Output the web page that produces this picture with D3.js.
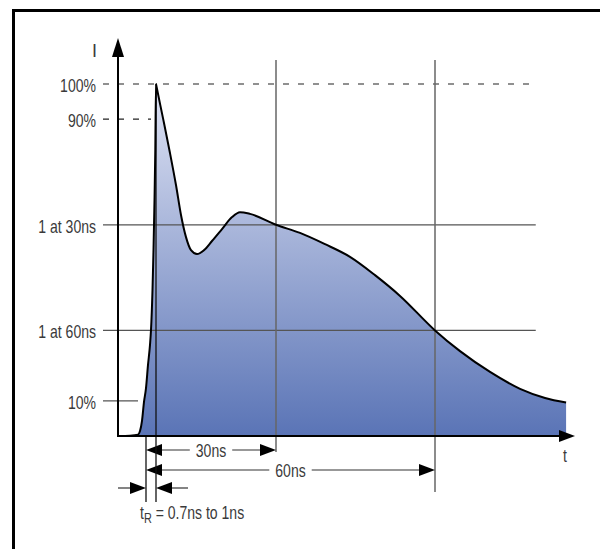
<!DOCTYPE html>
<html>
<head>
<meta charset="UTF-8">
<title>Pulse current waveform</title>
<style>
  body{margin:0;background:#fff}
  svg{display:block}
  text{font-family:"Liberation Sans",Arial,sans-serif;font-size:18px;fill:#3a3a3a}
</style>
</head>
<body>
<div id="chart"></div>
<script src="https://d3js.org/d3.v7.min.js"></script>
<script>
/* pulse: time in ns (schematic, not to scale), current in % of peak */
const pulseT = [-7,-4,-2,-1.5,-1,-0.5,0,0.2,0.4,0.5,0.65,0.75,0.85,0.93,1,1.05,
                2.69,4.38,5.83,7.04,8.25,9.46,10.91,12.6,14.53,16.95,19.37,21.3,23.72,30,
                34.53,39.25,43.96,48.68,53.4,60,64.72,70.38,76.04,80.75,84.72];
const pulseI = [0,0.1,0.4,1.4,4.3,9.7,13.6,20.2,25.9,30.1,41.5,52.8,67,81.3,100,99.7,
                90.3,80.4,71.3,62.8,56.5,52.8,51.7,52.8,55.4,58.8,62.2,63.6,63.1,60,
                57.7,54.5,50.9,45.7,39.8,30,24.1,18.2,13.4,10.8,9.5];

/* reference levels on the current axis */
const levelLabels = ["100%","90%","1 at 30ns","1 at 60ns","10%"];
const levelValues = [100,90,60,30,10];
const levelEnds   = [79,0.5,79,79,-2];      // ns where each guide stops

/* time markers */
const markerT      = [30,60];
const markerLabels = ["30ns","60ns"];
const riseT        = [0,1];
const riseLabel    = ["t","R"," = 0.7ns to 1ns"];

const W=600,H=549,NARROW=0.78;
const svg=d3.select("#chart").append("svg").attr("width",W).attr("height",H);

/* condensed text: regular font squeezed horizontally */
function label(px,py,anchor,str,sx=NARROW){
  const t=svg.append("text")
     .attr("transform",`translate(${px},${py}) scale(${sx},1)`)
     .attr("text-anchor",anchor);
  if(str!=null) t.text(str);
  return t;
}

/* frame (runs off the right/bottom of the picture) */
svg.append("rect").attr("x",13.5).attr("y",10.5).attr("width",700).attr("height",700)
   .attr("fill","none").attr("stroke","#000").attr("stroke-width",3);

/* scales: time axis is a schematic, piecewise */
const x=d3.scaleLinear().domain([-7,0,1,30,60,86.4]).range([118,146,156,276,435,575]);
const y=d3.scaleLinear().domain([0,100]).range([436,84]);

const pts=pulseT.map((t,i)=>({t,v:pulseI[i]}));

const defs=svg.append("defs");
const grad=defs.append("linearGradient").attr("id","fillGrad")
   .attr("gradientUnits","userSpaceOnUse")
   .attr("x1",0).attr("x2",0).attr("y1",y(100)).attr("y2",y(0));
grad.append("stop").attr("offset","0%").attr("stop-color","#e0e4f4");
grad.append("stop").attr("offset","100%").attr("stop-color","#5a74b6");

/* area under pulse */
svg.append("path").datum(pts)
   .attr("fill","url(#fillGrad)")
   .attr("d",d3.area().x(d=>x(d.t)).y0(y(0)).y1(d=>y(d.v)).curve(d3.curveMonotoneX));

const x0=x.range()[0], xEnd=x.range()[5], tick=15;

/* level guides */
levelValues.forEach((v,i)=>{
  svg.append("line")
     .attr("x1",x0-tick).attr("x2",x(levelEnds[i]))
     .attr("y1",y(v)).attr("y2",y(v))
     .attr("stroke",v>=90?"#222":"#555").attr("stroke-width",v>=90?1.2:1.3)
     .attr("stroke-dasharray",v>=90?"6,9":null);
  label(x0-22,y(v)+8,"end",levelLabels[i]);
});

/* arrow heads */
function head(tx,ty,dir){
  const L=16,h=6;
  let p;
  if(dir==="right") p=[[tx,ty],[tx-L,ty-h],[tx-L,ty+h]];
  else if(dir==="left") p=[[tx,ty],[tx+L,ty-h],[tx+L,ty+h]];
  else p=[[tx,ty],[tx-h,ty+L+3],[tx+h,ty+L+3]];
  svg.append("path").attr("d","M"+p.join("L")+"Z").attr("fill","#000");
}

/* rows below the time axis */
const rowY=[y(0)+14,y(0)+34], trY=y(0)+52;

/* vertical markers + dimension arrows */
markerT.forEach((t,i)=>{
  svg.append("line").attr("x1",x(t)).attr("x2",x(t))
     .attr("y1",y(100)-24).attr("y2",rowY[i]+(i?22:2))
     .attr("stroke","#666").attr("stroke-width",1.5);
  svg.append("line").attr("x1",x(0)+4).attr("x2",x(t)-4)
     .attr("y1",rowY[i]).attr("y2",rowY[i]).attr("stroke","#333").attr("stroke-width",1.2);
  const cx=(x(0)+x(t))/2;
  const lbl=label(cx,rowY[i]+6.5,"middle",markerLabels[i]);
  const w=lbl.node().getBBox().width*NARROW;
  svg.append("rect")
     .attr("x",cx-w/2-6).attr("y",rowY[i]-3).attr("width",w+12).attr("height",6)
     .attr("fill","#fff");
  lbl.raise();
  head(x(0),rowY[i],"left");
  head(x(t),rowY[i],"right");
});

/* rise time lines */
riseT.forEach((t,i)=>{
  svg.append("line").attr("x1",x(t)).attr("x2",x(t))
     .attr("y1",i?y(100):y(0)).attr("y2",trY+14)
     .attr("stroke","#111").attr("stroke-width",1.3);
});
svg.append("line").attr("x1",x(riseT[0])-28).attr("x2",x(riseT[0])-4)
   .attr("y1",trY).attr("y2",trY).attr("stroke","#333").attr("stroke-width",1.2);
svg.append("line").attr("x1",x(riseT[1])+4).attr("x2",x(riseT[1])+32)
   .attr("y1",trY).attr("y2",trY).attr("stroke","#333").attr("stroke-width",1.2);
head(x(riseT[0]),trY,"right");
head(x(riseT[1]),trY,"left");
const tr=label(x(riseT[0])-6,trY+31,"start");
tr.append("tspan").text(riseLabel[0]);
tr.append("tspan").attr("dy",4).style("font-size","14px").text(riseLabel[1]);
tr.append("tspan").attr("dy",-4).text(riseLabel[2]);

/* pulse outline */
svg.append("path").datum(pts)
   .attr("fill","none").attr("stroke","#000").attr("stroke-width",2)
   .attr("stroke-linejoin","round")
   .attr("d",d3.line().x(d=>x(d.t)).y(d=>y(d.v)).curve(d3.curveMonotoneX));

/* axes */
svg.append("line").attr("x1",x0).attr("x2",x0).attr("y1",y(0)+1).attr("y2",y(100)-30)
   .attr("stroke","#000").attr("stroke-width",2);
head(x0,y(100)-46,"up");
svg.append("line").attr("x1",x0).attr("x2",xEnd-10).attr("y1",y(0)).attr("y2",y(0))
   .attr("stroke","#000").attr("stroke-width",2);
head(xEnd,y(0),"right");

label(x0-21,y(100)-27,"end","I",1);
label(xEnd-10,y(0)+26,"middle","t");
</script>
</body>
</html>
